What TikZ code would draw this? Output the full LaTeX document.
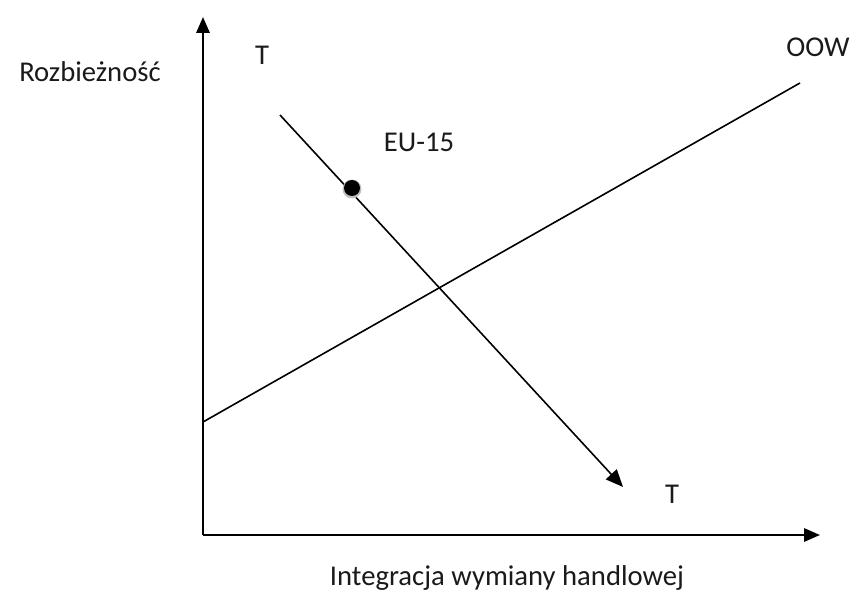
\documentclass[tikz,border=0pt]{standalone}
\usepackage{fontspec}
\setmainfont{Carlito}
\usetikzlibrary{arrows.meta}
\definecolor{colortxt}{HTML}{1A1A1A}

\begin{document}
\begin{tikzpicture}[x=0.75pt, y=0.75pt,
    axis/.style={line width=1.6pt, -{Triangle[length=12pt, width=10pt]}},
    curve/.style={line width=1.2pt},
    lbl/.style={anchor=base, inner sep=0pt, text=colortxt, font=\fontsize{21.5}{26}\selectfont}]
    \useasboundingbox (0,0) rectangle (854,594);
    \coordinate (O) at (203,59);
    \coordinate (ytop) at (203,577);
    \coordinate (xend) at (820,59);
    \coordinate (oowA) at (203,172);
    \coordinate (oowB) at (800,511);
    \coordinate (tA) at (280,479);
    \coordinate (tB) at (623,107);
    \draw[axis] (O) -- (ytop);
    \draw[axis] (O) -- (xend);
    \draw[curve] (oowA) -- (oowB);
    \draw[curve, -{Triangle[length=13pt, width=11pt]}] (tA) -- (tB);
    \fill[black!25] (352,405) circle (9.5);
    \fill (352,406) circle (8);
    \node[lbl] (rozb) at (90,512) {Rozbieżność};
    \node[lbl] (integ) at (507,9) {Integracja wymiany handlowej};
    \node[lbl] (ttop) at (262,529) {T};
    \node[lbl] (tbot) at (672,91) {T};
    \node[lbl] (oow) at (818,537) {OOW};
    \node[lbl] (eu) at (419,442) {EU-15};
\end{tikzpicture}
\end{document}
